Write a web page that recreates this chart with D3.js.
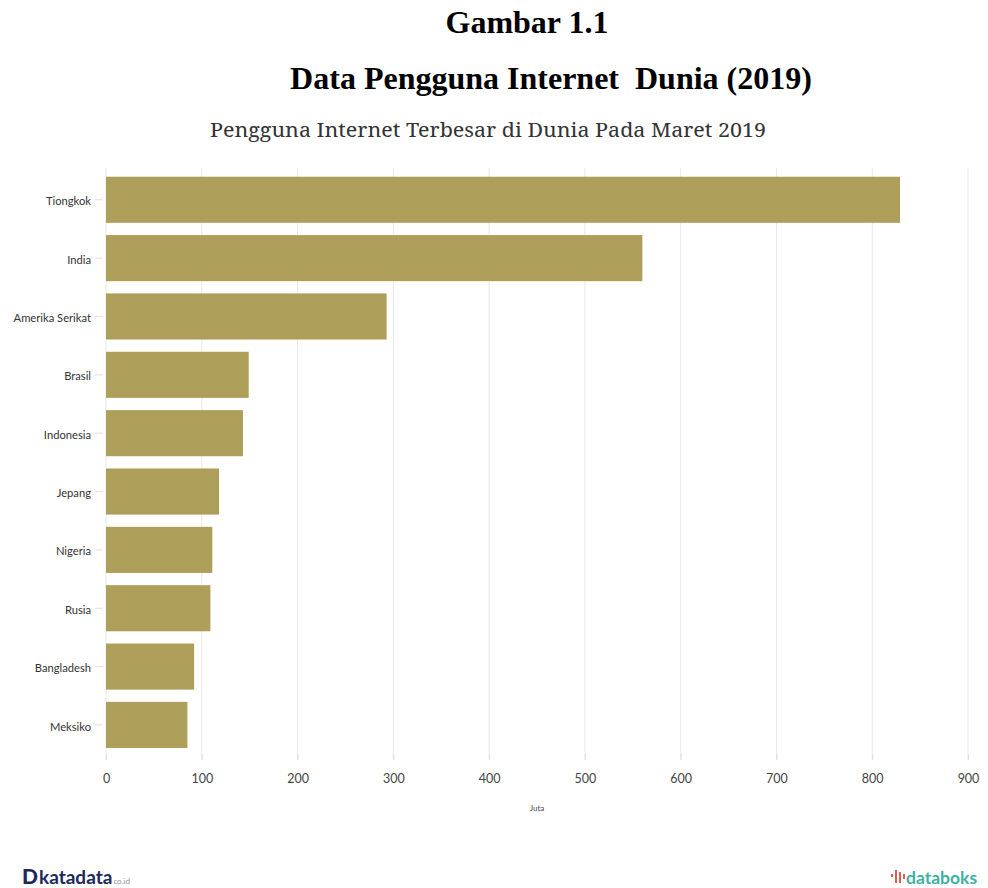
<!DOCTYPE html>
<html>
<head>
<meta charset="utf-8">
<script src="https://cdn.jsdelivr.net/npm/d3@7"></script>
<style>
  html, body { margin: 0; padding: 0; background: #fff; }
  svg { display: block; }
</style>
</head>
<body>
<svg id="chart" width="988" height="888"></svg>
<script>
const categories = ["Tiongkok", "India", "Amerika Serikat", "Brasil", "Indonesia", "Jepang", "Nigeria", "Rusia", "Bangladesh", "Meksiko"];
const values = [829, 560, 293, 149, 143, 118, 111, 109, 92, 85];
const xTicks = [0, 100, 200, 300, 400, 500, 600, 700, 800, 900];
const titleLines = ["Gambar 1.1", "Data Pengguna Internet  Dunia (2019)"];
const subtitle = "Pengguna Internet Terbesar di Dunia Pada Maret 2019";
const axisTitle = "Juta";

const data = categories.map((c, i) => ({ name: c, value: values[i] }));
const svg = d3.select("#chart");

const x = d3.scaleLinear().domain([0, 900]).range([106, 968]);
const y = d3.scaleBand().domain(categories).range([170.6, 754.1]).paddingInner(0.21).paddingOuter(0.105);

// titles
svg.append("text").attr("x", 527).attr("y", 33).attr("text-anchor", "middle")
  .attr("font-family", "Liberation Serif, Times New Roman, serif").attr("font-weight", "bold")
  .attr("font-size", 32).attr("fill", "#000").text(titleLines[0]);
svg.append("text").attr("x", 551).attr("y", 89).attr("text-anchor", "middle")
  .attr("font-family", "Liberation Serif, Times New Roman, serif").attr("font-weight", "bold")
  .attr("font-size", 32).attr("fill", "#000").style("white-space", "pre").attr("xml:space", "preserve")
  .text(titleLines[1]);
svg.append("text").attr("x", 488).attr("y", 137).attr("text-anchor", "middle")
  .attr("font-family", "Noto Serif, DejaVu Serif, serif")
  .attr("font-size", 19).attr("fill", "#333").attr("textLength", 556).attr("lengthAdjust", "spacingAndGlyphs")
  .text(subtitle);

// gridlines
svg.append("g").selectAll("line").data(xTicks).join("line")
  .attr("x1", d => x(d)).attr("x2", d => x(d))
  .attr("y1", 168).attr("y2", 760)
  .attr("stroke", "#e8e8e8").attr("stroke-width", 1);

// bars
svg.append("g").selectAll("rect").data(data).join("rect")
  .attr("x", x(0)).attr("y", d => y(d.name))
  .attr("width", d => x(d.value) - x(0)).attr("height", y.bandwidth())
  .attr("fill", "#ad9f5a");

// y axis
const yAxis = d3.axisLeft(y).tickSize(8).tickPadding(4);
const gy = svg.append("g").attr("transform", "translate(103,0)").call(yAxis);
gy.select(".domain").remove();
gy.selectAll(".tick line").attr("stroke", "#e0e0e0");
gy.selectAll(".tick text").attr("font-family", "Lato, Noto Sans, sans-serif").attr("font-size", 11.2)
  .attr("fill", "#333").attr("dy", "0.5em");

// x axis
const xAxis = d3.axisBottom(x).tickValues(xTicks).tickSize(6).tickPadding(14).tickFormat(d3.format("d"));
const gx = svg.append("g").attr("transform", "translate(0,754)").call(xAxis);
gx.select(".domain").remove();
gx.selectAll(".tick line").attr("stroke", "#e0e0e0");
gx.selectAll(".tick text").attr("font-family", "Lato, Noto Sans, sans-serif").attr("font-size", 12.5).attr("fill", "#444");

svg.append("text").attr("x", 537).attr("y", 811).attr("text-anchor", "middle")
  .attr("font-family", "Lato, Noto Sans, sans-serif").attr("font-size", 8).attr("fill", "#444").text(axisTitle);

// logos
const kt = svg.append("text").attr("x", 22).attr("y", 884).attr("font-family", "Lato, Noto Sans, sans-serif");
kt.append("tspan").attr("font-size", 21).attr("font-weight", "900").attr("fill", "#1c2a5a").text("D");
kt.append("tspan").attr("font-size", 19).attr("font-weight", "bold").attr("fill", "#1c2a5a").attr("dx", 1).text("katadata");
kt.append("tspan").attr("font-size", 8).attr("fill", "#8a93a8").attr("dx", 1).text("co.id");

const dbx = 891;
const icon = svg.append("g").attr("transform", `translate(${dbx},870)`);
[[0, 4, 3], [4, 0, 13], [8, 2, 11], [12, 4, 5]].forEach(([ox, oy, h]) => {
  icon.append("rect").attr("x", ox).attr("y", oy).attr("width", 2).attr("height", h).attr("fill", "#e35d4b");
});
svg.append("text").attr("x", 906).attr("y", 884).attr("font-family", "Lato, Noto Sans, sans-serif")
  .attr("font-size", 17.5).attr("font-weight", "bold").attr("fill", "#3fb0a3").text("databoks");
</script>
</body>
</html>
